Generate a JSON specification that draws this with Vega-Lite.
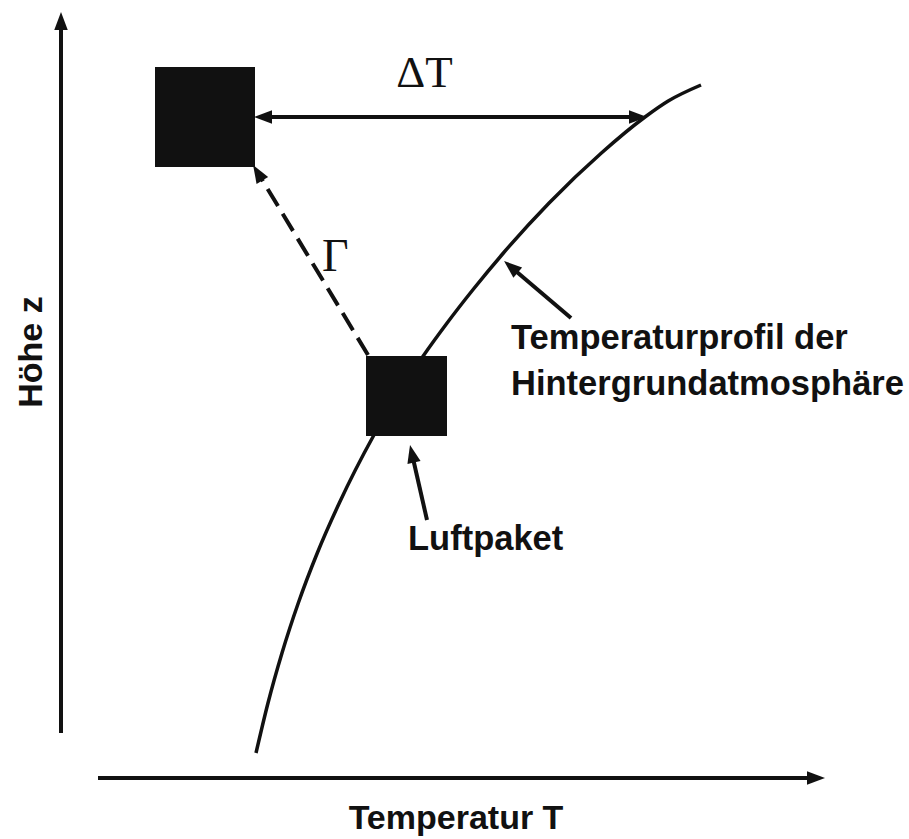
{
  "$schema": "https://vega.github.io/schema/vega-lite/v6.json",
  "width": 909,
  "height": 839,
  "autosize": {"type": "none"},
  "padding": 0,
  "background": "white",
  "config": {"view": {"stroke": null}},
  "datasets": {
    "profile": [
      {"T": 256, "z": 86}, {"T": 268, "z": 136}, {"T": 282, "z": 186}, {"T": 298.3, "z": 236},
      {"T": 317.3, "z": 286}, {"T": 339.3, "z": 336}, {"T": 373.4, "z": 403}, {"T": 396.8, "z": 443},
      {"T": 423.2, "z": 483}, {"T": 447.1, "z": 516}, {"T": 472.7, "z": 549}, {"T": 503.4, "z": 586},
      {"T": 549.1, "z": 636}, {"T": 601.4, "z": 686}, {"T": 645, "z": 722}, {"T": 668.2, "z": 738},
      {"T": 701, "z": 754}
    ],
    "solid": [
      {"T": 61, "z": 106, "T2": 61, "z2": 812},
      {"T": 98, "z": 61, "T2": 810, "z2": 61},
      {"T": 262, "z": 722, "T2": 640, "z2": 722},
      {"T": 571, "z": 521, "T2": 511, "z2": 572},
      {"T": 427, "z": 319, "T2": 412, "z2": 385}
    ],
    "dashed": [
      {"T": 368, "z": 484, "T2": 258, "z2": 666}
    ],
    "heads": [
      {"T": 61, "z": 818, "dir": 0},
      {"T": 816, "z": 61, "dir": 90},
      {"T": 263, "z": 722, "dir": 270},
      {"T": 638, "z": 722, "dir": 90},
      {"T": 257.7, "z": 666.3, "dir": 328.8},
      {"T": 510.9, "z": 572.2, "dir": 310.4},
      {"T": 412, "z": 385.2, "dir": 347.2}
    ],
    "boxes": [
      {"T": 155, "T2": 255, "z": 672, "z2": 772},
      {"T": 366, "T2": 447, "z": 403, "z2": 483}
    ],
    "serif": [
      {"T": 424.5, "z": 752, "label": "ΔT", "al": "c"},
      {"T": 322, "z": 568, "label": "Γ", "al": "l"}
    ],
    "sansLeft": [
      {"T": 511, "z": 490, "label": "Temperaturprofil der"},
      {"T": 511, "z": 444, "label": "Hintergrundatmosphäre"},
      {"T": 408, "z": 289, "label": "Luftpaket"}
    ],
    "xTitle": [{"T": 456, "z": 10, "label": "Temperatur T"}],
    "yTitle": [{"T": 42, "z": 487, "label": "Höhe z"}]
  },
  "encoding": {
    "x": {"field": "T", "type": "quantitative", "scale": {"domain": [0, 909], "nice": false, "zero": false}, "axis": null},
    "y": {"field": "z", "type": "quantitative", "scale": {"domain": [0, 839], "nice": false, "zero": false}, "axis": null}
  },
  "layer": [
    {
      "data": {"name": "profile"},
      "mark": {"type": "line", "interpolate": "monotone", "color": "#111111", "strokeWidth": 3.5},
      "encoding": {}
    },
    {
      "data": {"name": "solid"},
      "mark": {"type": "rule", "color": "#111111", "strokeWidth": 4},
      "encoding": {"x2": {"field": "T2"}, "y2": {"field": "z2"}}
    },
    {
      "data": {"name": "dashed"},
      "mark": {"type": "rule", "color": "#111111", "strokeWidth": 4, "strokeDash": [20, 9]},
      "encoding": {"x2": {"field": "T2"}, "y2": {"field": "z2"}}
    },
    {
      "data": {"name": "boxes"},
      "mark": {"type": "rect", "color": "#111111"},
      "encoding": {"x2": {"field": "T2"}, "y2": {"field": "z2"}}
    },
    {
      "data": {"name": "heads"},
      "mark": {"type": "point", "shape": "M0,-1L0.75,1L-0.75,1Z", "filled": true, "color": "#111111", "opacity": 1, "size": 324, "strokeWidth": 0},
      "encoding": {"angle": {"field": "dir", "type": "quantitative", "scale": null}}
    },
    {
      "data": {"name": "serif"},
      "transform": [{"filter": "datum.al == 'c'"}],
      "mark": {"type": "text", "font": "Liberation Serif", "fontSize": 45, "align": "center", "baseline": "alphabetic", "color": "#111111"},
      "encoding": {"text": {"field": "label"}}
    },
    {
      "data": {"name": "serif"},
      "transform": [{"filter": "datum.al == 'l'"}],
      "mark": {"type": "text", "font": "Liberation Serif", "fontSize": 46, "align": "left", "baseline": "alphabetic", "color": "#111111"},
      "encoding": {"text": {"field": "label"}}
    },
    {
      "data": {"name": "sansLeft"},
      "mark": {"type": "text", "font": "Liberation Sans", "fontWeight": "bold", "fontSize": 34.5, "align": "left", "baseline": "alphabetic", "color": "#111111"},
      "encoding": {"text": {"field": "label"}}
    },
    {
      "data": {"name": "xTitle"},
      "mark": {"type": "text", "font": "Liberation Sans", "fontWeight": "bold", "fontSize": 34, "align": "center", "baseline": "alphabetic", "color": "#111111"},
      "encoding": {"text": {"field": "label"}}
    },
    {
      "data": {"name": "yTitle"},
      "mark": {"type": "text", "font": "Liberation Sans", "fontWeight": "bold", "fontSize": 34, "align": "center", "baseline": "alphabetic", "angle": 270, "color": "#111111"},
      "encoding": {"text": {"field": "label"}}
    }
  ]
}
